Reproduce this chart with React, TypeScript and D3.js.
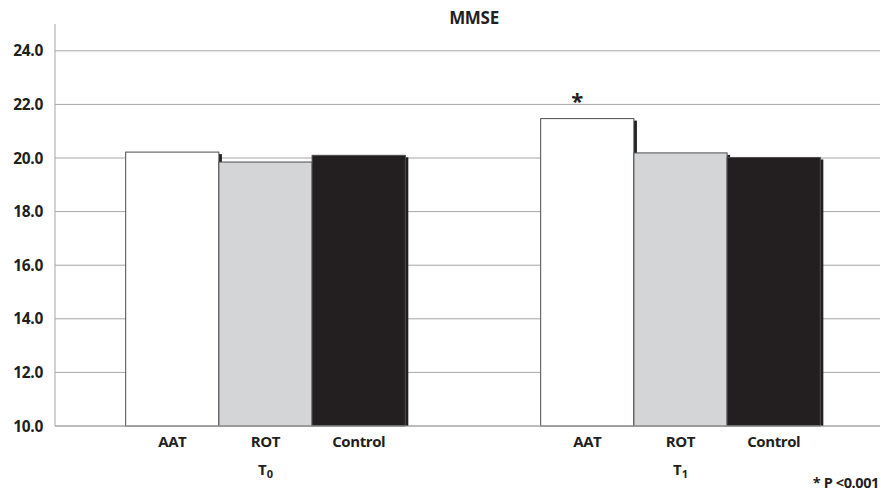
import React from "react";
import * as d3 from "d3";

const groups = ["T0", "T1"];
const groupSubs = ["0", "1"];
const series = ["AAT", "ROT", "Control"];
const valuesT0 = [20.22, 19.85, 20.1];
const valuesT1 = [21.47, 20.19, 20.02];
const yTicks = [10, 12, 14, 16, 18, 20, 22, 24];
const title = "MMSE";
const footnote = "* P <0.001";
const starSeries = { group: "T1", series: "AAT", label: "*" };

const W = 881;
const H = 494;
const fills = ["#ffffff", "#d4d5d7", "#231f20"];
const FONT = "'Open Sans', sans-serif";
const TXT = "#231f20";

export default function App() {
  const y = d3.scaleLinear().domain([10, 25]).range([426, 24]);
  const xg = d3.scaleBand().domain(groups).range([58, 888]).paddingInner(0).paddingOuter(0);
  const xs = d3
    .scaleBand()
    .domain(series)
    .range([0, xg.bandwidth()])
    .paddingInner(0)
    .paddingOuter(0.726);
  const data = [valuesT0, valuesT1];
  const axisX = 55;
  const rightX = 880;

  return (
    <svg
      width={W}
      height={H}
      style={{ position: "absolute", left: 0, top: 0, background: "#fff" }}
      fontFamily={FONT}
    >
      <rect x={0} y={0} width={W} height={H} fill="#fff" />
      <text x={474} y={24} textAnchor="middle" fontWeight={700} fontSize={17} fill={TXT} letterSpacing={-0.3}>
        {title}
      </text>
      {yTicks.map((t) => (
        <g key={t}>
          <line x1={axisX} x2={rightX} y1={y(t)} y2={y(t)} stroke="#a6a6a6" strokeWidth={1} />
          <text
            x={43}
            y={y(t) + 5.5}
            textAnchor="end"
            fontWeight={700}
            fontSize={15.5}
            fill={TXT}
            letterSpacing={-0.3}
          >
            {t.toFixed(1)}
          </text>
        </g>
      ))}
      <line x1={axisX} x2={axisX} y1={y(25)} y2={y(10)} stroke="#a6a6a6" strokeWidth={1} />
      {groups.map((g, gi) =>
        series.map((s, si) => {
          const x0 = (xg(g) as number) + (xs(s) as number);
          const bw = xs.bandwidth();
          const v = data[gi][si];
          const top = y(v);
          const bottom = y(10);
          return (
            <g key={g + s}>
              <rect x={x0 + 3} y={top + 2} width={bw} height={bottom - top - 2} fill="#231f20" />
              <rect
                x={x0}
                y={top}
                width={bw}
                height={bottom - top}
                fill={fills[si]}
                stroke="#4d4d4d"
                strokeWidth={1}
              />
            </g>
          );
        })
      )}
      <line x1={axisX} x2={rightX} y1={y(10)} y2={y(10)} stroke="#a6a6a6" strokeWidth={1} />
      {groups.map((g, gi) => (
        <g key={"lab" + g}>
          {series.map((s) => (
            <text
              key={s}
              x={(xg(g) as number) + (xs(s) as number) + xs.bandwidth() / 2}
              y={447}
              textAnchor="middle"
              fontWeight={700}
              fontSize={15}
              fill={TXT}
              letterSpacing={-0.4}
            >
              {s}
            </text>
          ))}
          <text
            x={(xg(g) as number) + (xs("ROT") as number) + xs.bandwidth() / 2}
            y={475}
            textAnchor="middle"
            fontWeight={700}
            fontSize={15}
            fill={TXT}
          >
            T
            <tspan fontSize={11} dy={3}>
              {groupSubs[gi]}
            </tspan>
          </text>
        </g>
      ))}
      <text
        x={(xg(starSeries.group) as number) + (xs(starSeries.series) as number) + xs.bandwidth() / 2 - 10}
        y={y(data[groups.indexOf(starSeries.group)][series.indexOf(starSeries.series)]) - 10}
        textAnchor="middle"
        fontWeight={700}
        fontSize={22}
        fill={TXT}
      >
        {starSeries.label}
      </text>
      <text x={879} y={488} textAnchor="end" fontWeight={700} fontSize={14.5} fill={TXT} letterSpacing={-0.4}>
        {footnote}
      </text>
    </svg>
  );
}
